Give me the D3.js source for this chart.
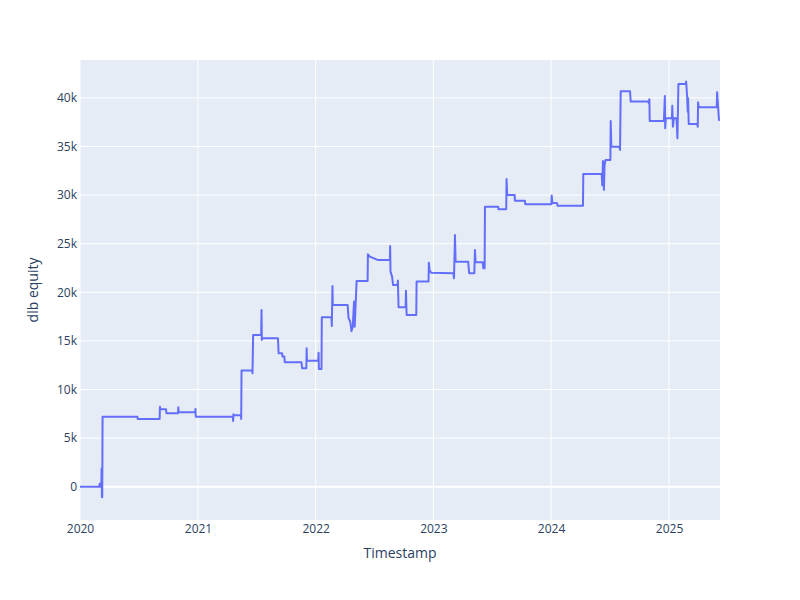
<!DOCTYPE html>
<html>
<head>
<meta charset="utf-8">
<script src="https://cdn.jsdelivr.net/npm/d3@7"></script>
<style>
  body { margin: 0; background: #fff; }
  svg { font-family: "Open Sans", "Noto Sans", sans-serif; }
</style>
</head>
<body>
<div id="chart"></div>
<script>
// equity curve
const dates = [
  '2020-01-01','2020-03-01','2020-03-02','2020-03-03','2020-03-07','2020-03-08','2020-03-09','2020-03-10','2020-03-11',
  '2020-06-27','2020-06-28','2020-09-04','2020-09-05','2020-09-06','2020-09-24','2020-09-25','2020-10-31','2020-11-01',
  '2020-11-02','2020-12-23','2020-12-24','2020-12-25','2021-04-19','2021-04-20','2021-04-21','2021-04-22','2021-05-14',
  '2021-05-15','2021-05-16','2021-06-18','2021-06-19','2021-06-21','2021-07-16','2021-07-17','2021-07-18','2021-07-19',
  '2021-09-06','2021-09-08','2021-09-19','2021-09-20','2021-09-26','2021-09-27','2021-11-18','2021-11-20','2021-12-03',
  '2021-12-04','2021-12-05','2022-01-09','2022-01-10','2022-01-11','2022-01-19','2022-01-20','2022-02-19','2022-02-20',
  '2022-02-22','2022-02-23','2022-04-10','2022-04-13','2022-04-18','2022-04-22','2022-04-26','2022-04-30','2022-05-02',
  '2022-05-08','2022-06-11','2022-06-12','2022-06-18','2022-07-12','2022-08-19','2022-08-20','2022-08-21','2022-08-26',
  '2022-08-29','2022-09-12','2022-09-13','2022-09-15','2022-10-07','2022-10-08','2022-10-10','2022-11-09','2022-11-10',
  '2022-12-17','2022-12-18','2022-12-20','2022-12-25','2023-03-04','2023-03-06','2023-03-09','2023-03-11','2023-04-19',
  '2023-04-22','2023-05-08','2023-05-10','2023-05-12','2023-06-03','2023-06-05','2023-06-09','2023-06-10','2023-07-21',
  '2023-07-22','2023-08-15','2023-08-16','2023-08-18','2023-09-10','2023-09-11','2023-10-12','2023-10-13','2024-01-02',
  '2024-01-03','2024-01-05','2024-01-20','2024-01-21','2024-04-09','2024-04-10','2024-06-06','2024-06-08','2024-06-10',
  '2024-06-13','2024-06-15','2024-06-18','2024-07-03','2024-07-04','2024-07-06','2024-07-31','2024-08-02','2024-08-04',
  '2024-09-02','2024-09-04','2024-10-28','2024-10-30','2024-11-01','2024-11-02','2024-12-16','2024-12-19','2024-12-20',
  '2024-12-22','2025-01-10','2025-01-11','2025-01-13','2025-01-16','2025-01-24','2025-01-27','2025-01-30','2025-02-22',
  '2025-02-23','2025-02-26','2025-02-28','2025-03-01','2025-03-03','2025-03-29','2025-03-31','2025-04-01','2025-04-03',
  '2025-05-29','2025-05-30','2025-06-05'
]
const equity = [
  0, 0, 300, 0, 0, 1890, -1090, -1090, 7200,
  7200, 6970, 6970, 8230, 7960, 7960, 7550, 7550, 8170,
  7650, 7650, 8000, 7200, 7200, 6760, 7450, 7350, 7350,
  6970, 11940, 11940, 11670, 15610, 15610, 18180, 15100, 15270,
  15270, 13730, 13730, 13380, 13380, 12800, 12800, 12180, 12180,
  14240, 12960, 12960, 13790, 12110, 12110, 17430, 17430, 16540,
  20650, 18700, 18700, 17330, 17000, 16000, 16500, 19040, 16460,
  21170, 21170, 23910, 23670, 23330, 23330, 24770, 22120, 21610,
  20750, 20750, 21200, 18460, 18460, 20170, 17670, 17670, 21100,
  21100, 23050, 22300, 22020, 21960, 21440, 25900, 23150, 23150,
  21960, 21960, 24360, 23090, 23090, 22470, 22470, 28810, 28810,
  28540, 28540, 31660, 30020, 30020, 29430, 29430, 29060, 29060,
  29950, 29200, 29160, 28910, 28910, 32180, 32180, 31000, 33500,
  30530, 33100, 33620, 33620, 37630, 34980, 34980, 34650, 40680,
  40680, 39620, 39620, 39450, 39860, 37630, 37630, 40200, 36880,
  37910, 37910, 39200, 37040, 37910, 37910, 35850, 41440, 41440,
  41680, 40130, 38590, 40000, 37320, 37320, 37040, 39550, 39040,
  39040, 40580, 37630
]
const yTicks = [0, 5000, 10000, 15000, 20000, 25000, 30000, 35000, 40000]
const xTickYears = [2020, 2021, 2022, 2023, 2024, 2025]

const W = 800, H = 600
const margin = { top: 60, right: 80, bottom: 80, left: 80 }
const innerW = W - margin.left - margin.right,
      innerH = H - margin.top - margin.bottom

const parse = d3.timeParse('%Y-%m-%d')
const data = dates.map((d, i) => ({ t: parse(d), v: equity[i] }))

const svg = d3.select('#chart').append('svg')
    .attr('width', W)
    .attr('height', H)

const g = svg.append('g')
    .attr('transform', 'translate(' + margin.left + ',' + margin.top + ')')

const x = d3.scaleTime()
    .domain([new Date(2020, 0, 1), new Date(2025, 5, 8)])
    .range([0, innerW])
const y = d3.scaleLinear()
    .domain([-3430, 43900])
    .range([innerH, 0])

g.append('rect')
    .attr('width', innerW)
    .attr('height', innerH)
    .attr('fill', '#E5ECF6')

// grid
g.append('g').selectAll('line').data(xTickYears)
  .enter().append('line')
    .attr('x1', d => x(new Date(d, 0, 1)))
    .attr('x2', d => x(new Date(d, 0, 1)))
    .attr('y1', 0).attr('y2', innerH)
    .attr('stroke', '#fff').attr('stroke-width', 1)

g.append('g').selectAll('line').data(yTicks)
  .enter().append('line')
    .attr('x1', 0).attr('x2', innerW)
    .attr('y1', d => y(d)).attr('y2', d => y(d))
    .attr('stroke', '#fff')
    .attr('stroke-width', d => d === 0 ? 2 : 1)

// axes, plotly-ish: no domain line, no tick marks
const xAxis = d3.axisBottom(x)
    .tickValues(xTickYears.map(yr => new Date(yr, 0, 1)))
    .tickFormat(d3.timeFormat('%Y'))
    .tickSize(0).tickPadding(4)
const yAxis = d3.axisLeft(y)
    .tickValues(yTicks)
    .tickFormat(d => d === 0 ? '0' : (d / 1000) + 'k')
    .tickSize(0).tickPadding(3)

g.append('g')
    .attr('transform', 'translate(0,' + innerH + ')')
    .call(xAxis)
    .call(s => s.select('.domain').remove())
    .selectAll('text')
    .attr('font-size', 12).attr('fill', '#2a3f5f')
    .attr('font-family', '"Open Sans", sans-serif')

g.append('g')
    .call(yAxis)
    .call(s => s.select('.domain').remove())
    .selectAll('text')
    .attr('font-size', 12).attr('fill', '#2a3f5f')
    .attr('font-family', '"Open Sans", sans-serif')

// clip for the line
svg.append('defs').append('clipPath').attr('id', 'clip')
  .append('rect').attr('width', innerW).attr('height', innerH)

const line = d3.line()
    .x(d => x(d.t))
    .y(d => y(d.v))

g.append('path')
    .datum(data)
    .attr('clip-path', 'url(#clip)')
    .attr('fill', 'none')
    .attr('stroke', '#636efa')
    .attr('stroke-width', 2)
    .attr('stroke-linejoin', 'round')
    .attr('d', line)

// titles
svg.append('text')
    .attr('x', margin.left + innerW / 2)
    .attr('y', 558)
    .attr('text-anchor', 'middle')
    .attr('font-size', 14).attr('fill', '#2a3f5f')
    .text('Timestamp')

svg.append('text')
    .attr('transform', 'translate(38,' + (margin.top + innerH / 2) + ') rotate(-90)')
    .attr('text-anchor', 'middle')
    .attr('font-size', 14).attr('fill', '#2a3f5f')
    .text('dlb equity')
</script>
</body>
</html>
